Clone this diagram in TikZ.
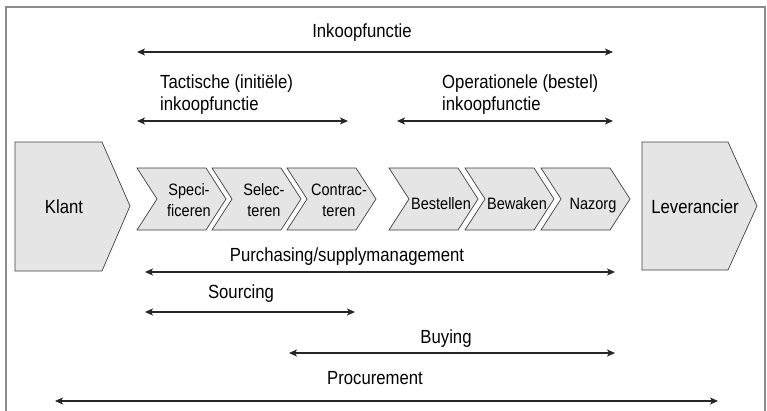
\documentclass[tikz,border=0pt]{standalone}
\usepackage{fontspec}
\setmainfont{Liberation Sans}[FakeStretch=0.88]
\usetikzlibrary{arrows.meta}

\newcommand*{\stepw}{69}
\newcommand*{\stepd}{20}
\newcommand*{\steph}{62}
\newcommand*{\steptop}{168}

\begin{document}
\begin{tikzpicture}
[
	x=1pt, y=-1pt,
	outline/.style={draw=black!45,line width=1.5pt},
	stepshape/.style={draw=black!75,fill=black!10,line width=0.7pt},
	steplabel/.style={font=\fontsize{16.5}{21}\selectfont,align=center,inner sep=0pt},
	txt/.style={font=\fontsize{19}{22}\selectfont,inner sep=0pt},
	spanarrow/.style={{Stealth[length=8pt,width=7pt,inset=2pt]}-{Stealth[length=8pt,width=7pt,inset=2pt]},line width=1.2pt,draw=black!85}
]

	\useasboundingbox (0,0) rectangle (767,410);

	% frame, open at the bottom
	\draw[outline] (6,412) -- (6,7) -- (765,7) -- (765,412);

	% customer and supplier
	\draw[stepshape] (15,142) -- (102,142) -- (130,206) -- (102,271) -- (15,271) -- cycle;
	\node[txt] (klant) at (64,207) {Klant};
	\draw[stepshape] (642,142) -- (728,142) -- (757,206) -- (728,270) -- (642,270) -- cycle;
	\node[txt] (lev) at (695,207) {Leverancier};

	% the six steps
	\foreach \x/\name/\anc/\ty/\txt in {137/spec/center/200/{Speci-\\ficeren}, 212/sel/center/200/{Selec-\\teren}, 287/con/center/200/{Contrac-\\teren}, 389/best/base/209/Bestellen, 465/bew/base/209/Bewaken, 541/naz/base/209/Nazorg}
	{
		\draw[stepshape] (\x,\steptop) -- ++(\stepw,0) -- ++(\stepd,\steph/2) -- ++(-\stepd,\steph/2) -- ++(-\stepw,0) -- ++(\stepd,-\steph/2) -- cycle;
		\node[steplabel,anchor=\anc] (\name) at (\x+52,\ty) {\txt};
	}

	% spans above the steps
	\coordinate (ink-l) at (137,52);
	\coordinate (ink-r) at (613,52);
	\draw[spanarrow] (ink-l) -- (ink-r);
	\node[txt,anchor=base] (ink) at (362,37) {Inkoopfunctie};

	\coordinate (tac-l) at (137,121);
	\coordinate (tac-r) at (348,121);
	\draw[spanarrow] (tac-l) -- (tac-r);
	\node[txt,anchor=north west,align=left] (tac) at (160,75) {Tactische (initiële)\\inkoopfunctie};

	\coordinate (ope-l) at (397,121);
	\coordinate (ope-r) at (613,121);
	\draw[spanarrow] (ope-l) -- (ope-r);
	\node[txt,anchor=north west,align=left] (ope) at (442,75) {Operationele (bestel)\\inkoopfunctie};

	% spans below the steps
	\coordinate (pur-l) at (145,272);
	\coordinate (pur-r) at (615,272);
	\draw[spanarrow] (pur-l) -- (pur-r);
	\node[txt,anchor=base] (pur) at (347,261) {Purchasing/supplymanagement};

	\coordinate (sou-l) at (145,312);
	\coordinate (sou-r) at (355,312);
	\draw[spanarrow] (sou-l) -- (sou-r);
	\node[txt,anchor=base] (sou) at (241,298) {Sourcing};

	\coordinate (buy-l) at (289,353);
	\coordinate (buy-r) at (615,353);
	\draw[spanarrow] (buy-l) -- (buy-r);
	\node[txt,anchor=base] (buy) at (446,343) {Buying};

	\coordinate (pro-l) at (55,401);
	\coordinate (pro-r) at (718,401);
	\draw[spanarrow] (pro-l) -- (pro-r);
	\node[txt,anchor=base] (pro) at (375,384) {Procurement};

\end{tikzpicture}
\end{document}
